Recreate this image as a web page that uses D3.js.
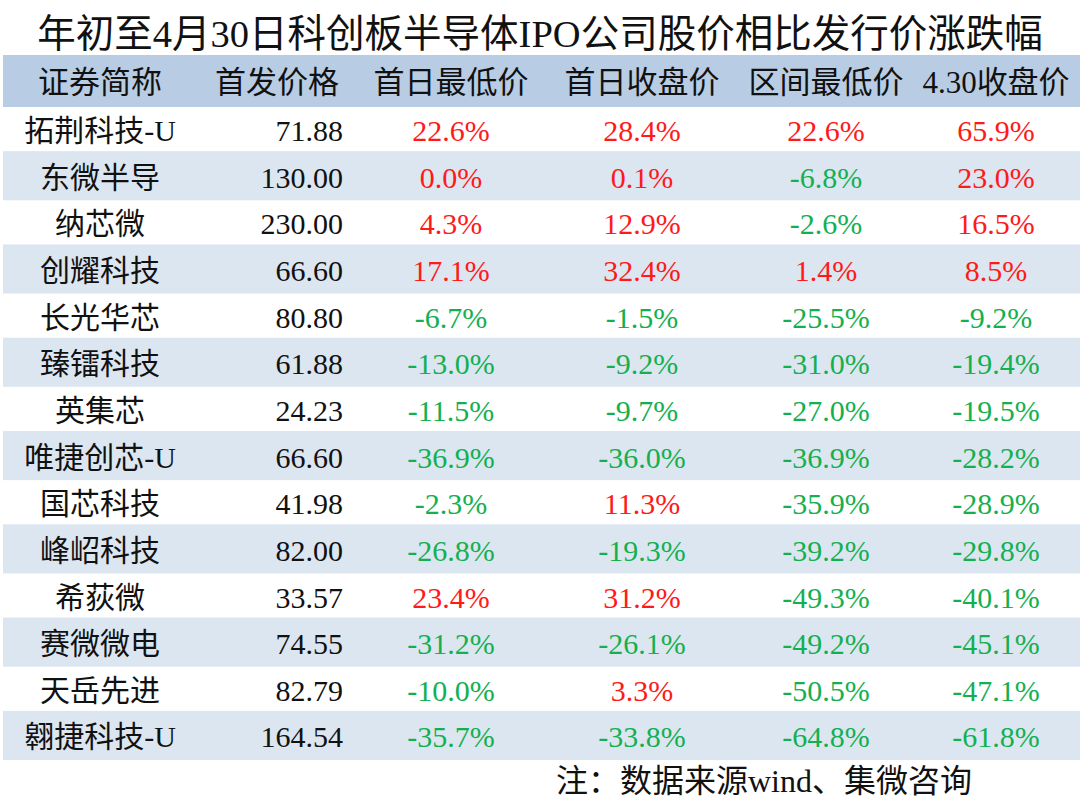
<!DOCTYPE html>
<html>

<head>
    <meta charset="UTF-8">
    <style>
        body { margin: 0; background: #fff; }
    </style>
</head>

<body>
    <div id="my_dataviz"></div>

    <script src="https://d3js.org/d3.v7.min.js"></script>
    <script>
        // table data
        const title = "年初至4月30日科创板半导体IPO公司股价相比发行价涨跌幅";
        const headers = ["证券简称", "首发价格", "首日最低价", "首日收盘价", "区间最低价", "4.30收盘价"];
        const names = ["拓荆科技-U", "东微半导", "纳芯微", "创耀科技", "长光华芯", "臻镭科技", "英集芯",
            "唯捷创芯-U", "国芯科技", "峰岹科技", "希荻微", "赛微微电", "天岳先进", "翱捷科技-U"];
        const ipoPrice = ["71.88", "130.00", "230.00", "66.60", "80.80", "61.88", "24.23",
            "66.60", "41.98", "82.00", "33.57", "74.55", "82.79", "164.54"];
        const firstDayLow = [22.6, 0.0, 4.3, 17.1, -6.7, -13.0, -11.5, -36.9, -2.3, -26.8, 23.4, -31.2, -10.0, -35.7];
        const firstDayClose = [28.4, 0.1, 12.9, 32.4, -1.5, -9.2, -9.7, -36.0, 11.3, -19.3, 31.2, -26.1, 3.3, -33.8];
        const periodLow = [22.6, -6.8, -2.6, 1.4, -25.5, -31.0, -27.0, -36.9, -35.9, -39.2, -49.3, -49.2, -50.5, -64.8];
        const closeApr30 = [65.9, 23.0, 16.5, 8.5, -9.2, -19.4, -19.5, -28.2, -28.9, -29.8, -40.1, -45.1, -47.1, -61.8];
        const note = "注：数据来源wind、集微咨询";

        const pctCols = [firstDayLow, firstDayClose, periodLow, closeApr30];

        const width = 1080, height = 806;
        const fontFam = "'Liberation Serif', 'Noto Sans CJK SC', serif";

        const svg = d3.select("#my_dataviz")
            .append("svg")
            .attr("width", width)
            .attr("height", height)
            .style("font-family", fontFam);

        // row positions
        const y = d3.scaleBand()
            .domain(d3.range(names.length))
            .range([107, 760]);

        // column centres (name / pct columns) and right edge for price
        const x = d3.scaleOrdinal()
            .domain(d3.range(6))
            .range([100, 277, 451, 642, 826, 996]);
        const priceRight = 343;

        // header band
        svg.append("rect")
            .attr("x", 3).attr("y", 55)
            .attr("width", width - 3).attr("height", 52)
            .attr("fill", "#b8cce4");

        // alternating row bands
        svg.append("g")
            .selectAll("rect")
            .data(d3.range(names.length).filter(i => i % 2 === 1))
            .join("rect")
            .attr("x", 3)
            .attr("y", i => y(i) - 2.5)
            .attr("width", width - 3)
            .attr("height", y.bandwidth() + 2.5)
            .attr("fill", "#dce6f1");

        // title
        svg.append("text")
            .attr("x", 540).attr("y", 33)
            .attr("dy", "0.36em")
            .attr("text-anchor", "middle")
            .style("font-size", "38.5px")
            .attr("fill", "#111")
            .text(title);

        // header labels
        svg.append("g")
            .selectAll("text")
            .data(headers)
            .join("text")
            .attr("x", (d, i) => x(i))
            .attr("y", 82)
            .attr("dy", "0.36em")
            .attr("text-anchor", "middle")
            .style("font-size", "31px")
            .attr("fill", "#111")
            .text(d => d);

        const rows = svg.append("g")
            .selectAll("g")
            .data(d3.range(names.length))
            .join("g")
            .attr("transform", i => "translate(0," + (y(i) + y.bandwidth() / 2) + ")");

        // names
        rows.append("text")
            .attr("x", x(0))
            .attr("dy", "0.36em")
            .attr("text-anchor", "middle")
            .style("font-size", "30px")
            .attr("fill", "#111")
            .text(i => names[i]);

        // ipo price
        rows.append("text")
            .attr("x", priceRight)
            .attr("dy", "0.36em")
            .attr("text-anchor", "end")
            .style("font-size", "30px")
            .attr("fill", "#111")
            .text(i => ipoPrice[i]);

        // percentage columns
        pctCols.forEach(function (col, c) {
            rows.append("text")
                .attr("x", x(c + 2))
                .attr("dy", "0.36em")
                .attr("text-anchor", "middle")
                .style("font-size", "30px")
                .attr("fill", i => col[i] >= 0 ? "#ff1a1a" : "#14b050")
                .text(i => col[i].toFixed(1) + "%");
        });

        // footnote
        svg.append("text")
            .attr("x", 972).attr("y", 780)
            .attr("dy", "0.36em")
            .attr("text-anchor", "end")
            .style("font-size", "32px")
            .attr("fill", "#111")
            .text(note);
    </script>
</body>

</html>
